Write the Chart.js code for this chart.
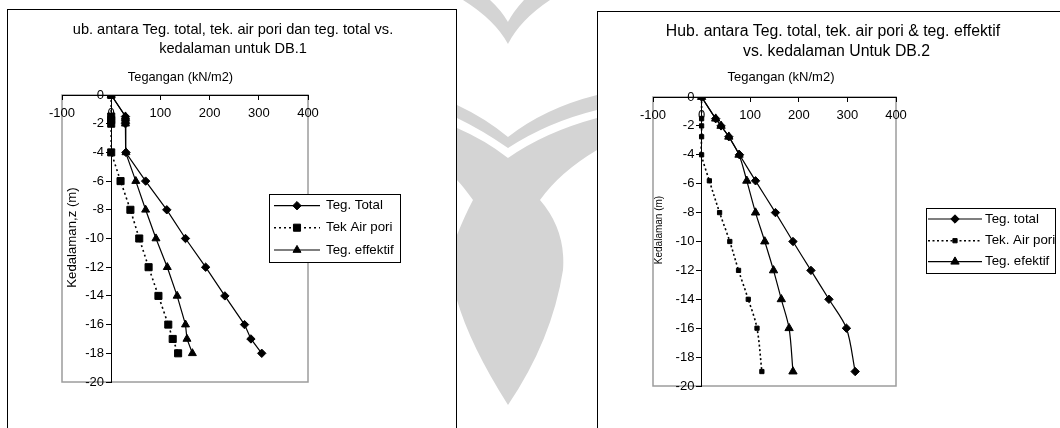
<!DOCTYPE html>
<html>
<head>
<meta charset="utf-8">
<title>Tegangan vs kedalaman</title>
<script src="https://cdn.jsdelivr.net/npm/chart.js@4.4.0/dist/chart.umd.min.js"></script>
<style>
  body { margin: 0; width: 1060px; height: 428px; overflow: hidden; background: #fff; position: relative; }
  #wm { position: absolute; left: 0; top: 0; }
  .box { position: absolute; border: 1px solid #000; background: #fff; box-sizing: border-box; overflow: hidden; }
  #box1 { left: 7px; top: 9px; width: 450px; height: 440px; }
  #box2 { left: 597px; top: 11px; width: 480px; height: 440px; }
  canvas { position: absolute; left: 0; top: 0; }
</style>
</head>
<body>
<svg id="wm" width="1060" height="428">
  <g fill="#d4d4d4">
    <path d="M463,0 Q495,20 508,44 Q520,20 550,0 L524,0 Q513,12 508,22 Q501,10 490,0 Z"/>
    <path d="M457,105 Q485,118 508,137 Q545,108 597,95 L597,110 Q548,122 508,148 Q482,130 457,118 Z"/>
    <path d="M457,128 Q485,140 508,158 Q545,132 597,118 L597,150 Q560,172 540,200 Q566,230 563,270 Q552,340 508,405 Q470,345 457,300 L457,235 Q465,215 473,200 Q462,185 457,180 Z"/>
  </g>
</svg>
<div class="box" id="box1"><canvas id="chart1" width="448" height="418"></canvas></div>
<div class="box" id="box2"><canvas id="chart2" width="462" height="416"></canvas></div>
<script>
const FONT = '"Liberation Sans", Arial, sans-serif';
Chart.defaults.font.family = FONT;
Chart.defaults.color = "#000";

// tick labels (kN/m2 and m)
const xTickValues = [-100, 0, 100, 200, 300, 400];
const yTickValues = [0, -2, -4, -6, -8, -10, -12, -14, -16, -18, -20];

// DB.1
const depth1 = [0, -1.5, -1.75, -2, -4, -6, -8, -10, -12, -14, -16, -17, -18];
const total1 = [0, 29, 29, 29, 30, 70, 113, 151, 192, 231, 271, 284, 306];
const pori1 = [0, 0, 0, 0, 0, 19, 39, 57, 76, 96, 116, 125, 136];
const efektif1 = [0, 29, 29, 29, 30, 50, 70, 91, 114, 134, 151, 154, 165];
const labels1 = ["Teg. Total", "Tek Air pori", "Teg. effektif"];

// DB.2
const depth2 = [0, -1.5, -2, -2.75, -4, -5.8, -8, -10, -12, -14, -16, -19];
const total2 = [0, 29, 40, 56, 78, 111, 152, 188, 225, 262, 298, 316];
const pori2 = [0, 0, 0, 0, 0, 16, 37, 58, 76, 96, 114, 124];
const efektif2 = [0, 29, 40, 56, 77, 93, 111, 130, 148, 164, 180, 188];
const labels2 = ["Teg. total", "Tek. Air pori", "Teg. efektif"];

function toPoints(depths, values) {
  return depths.map((d, i) => ({ x: values[i], y: d }));
}

// grey frame round the plot area
const framePlugin = {
  id: "frame",
  beforeDraw(chart) {
    const { ctx, chartArea: a } = chart;
    ctx.save();
    ctx.strokeStyle = "#9c9c9c";
    ctx.lineWidth = 1.5;
    ctx.strokeRect(a.left, a.top, a.right - a.left, a.bottom - a.top);
    ctx.restore();
  },
};

// titles drawn on the canvas
const textPlugin = {
  id: "texts",
  afterDraw(chart, args, opts) {
    const ctx = chart.ctx;
    ctx.save();
    ctx.fillStyle = "#000";
    ctx.textAlign = "center";
    ctx.textBaseline = "middle";
    opts.items.forEach((t) => {
      ctx.font = t.size + "px " + FONT;
      ctx.save();
      ctx.translate(t.x, t.y);
      if (t.rotate) ctx.rotate(-Math.PI / 2);
      ctx.fillText(t.text, 0, 0);
      ctx.restore();
    });
    ctx.restore();
  },
};

// excel style legend: line sample with marker in the middle
const legendPlugin = {
  id: "boxLegend",
  afterDraw(chart, args, o) {
    const ctx = chart.ctx;
    ctx.save();
    ctx.fillStyle = "#fff";
    ctx.fillRect(o.left, o.top, o.width, o.height);
    ctx.strokeStyle = "#000";
    ctx.lineWidth = 1;
    ctx.strokeRect(o.left + 0.5, o.top + 0.5, o.width, o.height);
    chart.data.datasets.forEach((ds, i) => {
      const y = o.rows[i];
      ctx.beginPath();
      ctx.setLineDash(ds.borderDash || []);
      ctx.lineWidth = ds.borderWidth;
      ctx.strokeStyle = ds.borderColor;
      ctx.moveTo(o.lineFrom, y);
      ctx.lineTo(o.lineTo, y);
      ctx.stroke();
      ctx.setLineDash([]);
      ctx.fillStyle = ds.pointBackgroundColor;
      ctx.strokeStyle = ds.pointBorderColor;
      ctx.lineWidth = 1;
      Chart.helpers.drawPoint(
        ctx,
        { pointStyle: ds.pointStyle, radius: ds.pointRadius, rotation: 0, borderWidth: 1 },
        (o.lineFrom + o.lineTo) / 2,
        y
      );
      ctx.fillStyle = "#000";
      ctx.font = o.size + "px " + FONT;
      ctx.textAlign = "left";
      ctx.textBaseline = "middle";
      ctx.fillText(ds.label, o.textX, y);
    });
    ctx.restore();
  },
};

function makeDatasets(labels, depths, tot, pori, eff, look) {
  const base = {
    showLine: true,
    borderColor: "#000",
    pointBackgroundColor: "#000",
    pointBorderColor: "#000",
    pointBorderWidth: 1,
    tension: look.tension,
  };
  return [
    Object.assign({}, base, {
      label: labels[0],
      data: toPoints(depths, tot),
      borderWidth: 1.2,
      pointStyle: "rectRot",
      pointRadius: look.diamond,
    }),
    Object.assign({}, base, {
      label: labels[1],
      data: toPoints(depths, pori),
      borderWidth: 1.6,
      borderDash: look.dash,
      pointStyle: "rect",
      pointRadius: look.square,
    }),
    Object.assign({}, base, {
      label: labels[2],
      data: toPoints(depths, eff),
      borderWidth: 1.2,
      pointStyle: "triangle",
      pointRadius: look.tri,
    }),
  ];
}

function makeScales() {
  return {
    x: {
      type: "linear",
      min: -100,
      max: 400,
      position: { y: 0 },
      afterBuildTicks: (s) => {
        s.ticks = xTickValues.map((v) => ({ value: v }));
      },
      grid: { drawOnChartArea: false, tickLength: 4, color: "#000", lineWidth: 1 },
      border: { color: "#000", width: 1 },
      ticks: { font: { size: 13 }, color: "#000", padding: 7, maxRotation: 0, autoSkip: false },
    },
    y: {
      type: "linear",
      min: -20,
      max: 0,
      position: { x: 0 },
      afterBuildTicks: (s) => {
        s.ticks = yTickValues.map((v) => ({ value: v }));
      },
      grid: { drawOnChartArea: false, tickLength: 5, color: "#000", lineWidth: 1 },
      border: { color: "#000", width: 1 },
      ticks: { font: { size: 13 }, color: "#000", autoSkip: false, callback: (v) => v + "  " },
    },
  };
}

new Chart(document.getElementById("chart1"), {
  type: "scatter",
  data: {
    datasets: makeDatasets(labels1, depth1, total1, pori1, efektif1, {
      tension: 0,
      dash: [2, 3],
      diamond: 4.2,
      square: 5,
      tri: 4.6,
    }),
  },
  options: {
    responsive: false,
    animation: false,
    layout: { padding: { left: 54, right: 148, top: 85, bottom: 46 } },
    scales: makeScales(),
    plugins: {
      legend: { display: false },
      tooltip: { enabled: false },
      texts: {
        items: [
          { text: "ub. antara Teg. total, tek. air pori dan teg. total vs.", x: 225, y: 20, size: 14.6 },
          { text: "kedalaman untuk DB.1", x: 225, y: 39, size: 14.6 },
          { text: "Tegangan (kN/m2)", x: 172.5, y: 67, size: 12.8 },
          { text: "Kedalaman,z (m)", x: 64, y: 227.5, size: 13.2, rotate: true },
        ],
      },
      boxLegend: { left: 261, top: 184, width: 131, height: 68, rows: [195.7, 217.7, 240], lineFrom: 266, lineTo: 312, textX: 318, size: 13.3 },
    },
  },
  plugins: [framePlugin, textPlugin, legendPlugin],
});

new Chart(document.getElementById("chart2"), {
  type: "scatter",
  data: {
    datasets: makeDatasets(labels2, depth2, total2, pori2, efektif2, {
      tension: 0.3,
      dash: [2, 2.5],
      diamond: 4.2,
      square: 3,
      tri: 4.8,
    }),
  },
  options: {
    responsive: false,
    animation: false,
    layout: { padding: { left: 55, right: 164, top: 85, bottom: 42 } },
    scales: makeScales(),
    plugins: {
      legend: { display: false },
      tooltip: { enabled: false },
      texts: {
        items: [
          { text: "Hub. antara Teg. total, tek. air pori & teg. effektif", x: 235, y: 20, size: 15.8 },
          { text: "vs. kedalaman Untuk DB.2", x: 238.5, y: 40, size: 15.8 },
          { text: "Tegangan (kN/m2)", x: 183, y: 65, size: 13 },
          { text: "Kedalaman (m)", x: 61, y: 218, size: 10, rotate: true },
        ],
      },
      boxLegend: { left: 328, top: 196, width: 129, height: 65, rows: [207, 228.7, 249.7], lineFrom: 330, lineTo: 384, textX: 387, size: 13.3 },
    },
  },
  plugins: [framePlugin, textPlugin, legendPlugin],
});
</script>
</body>
</html>
